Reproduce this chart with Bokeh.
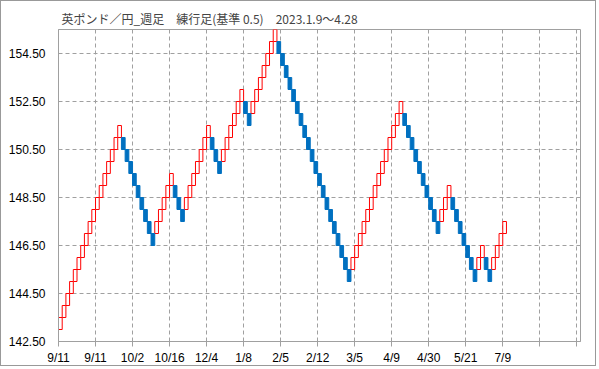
from bokeh.plotting import figure
from bokeh.models import FixedTicker, PrintfTickFormatter, ColumnDataSource
from bokeh.embed import file_html
from bokeh.resources import INLINE

# Renko (練行足) boxes, box size 0.5 yen: bottom of each box, in order
box_low = [
    143.0, 143.5, 144.0, 144.5, 145.0, 145.5, 146.0, 146.5, 147.0, 147.5,
    148.0, 148.5, 149.0, 149.5, 150.0, 150.5, 151.0,
    150.5, 150.0, 149.5, 149.0, 148.5, 148.0, 147.5, 147.0, 146.5,
    147.0, 147.5, 148.0, 148.5, 149.0,
    148.5, 148.0, 147.5,
    148.0, 148.5, 149.0, 149.5, 150.0, 150.5, 151.0,
    150.5, 150.0, 149.5,
    150.0, 150.5, 151.0, 151.5, 152.0, 152.5,
    152.0, 151.5,
    152.0, 152.5, 153.0, 153.5, 154.0, 154.5, 155.0,
    154.5, 154.0, 153.5, 153.0, 152.5, 152.0, 151.5, 151.0, 150.5, 150.0,
    149.5, 149.0, 148.5, 148.0, 147.5, 147.0, 146.5, 146.0, 145.5, 145.0,
    145.5, 146.0, 146.5, 147.0, 147.5, 148.0, 148.5, 149.0, 149.5, 150.0,
    150.5, 151.0, 151.5, 152.0,
    151.5, 151.0, 150.5, 150.0, 149.5, 149.0, 148.5, 148.0, 147.5, 147.0,
    147.5, 148.0, 148.5,
    148.0, 147.5, 147.0, 146.5, 146.0, 145.5, 145.0,
    145.5, 146.0,
    145.5, 145.0,
    145.5, 146.0, 146.5, 147.0,
]
box_dir = (["U"] * 17 + ["D"] * 9 + ["U"] * 5 + ["D"] * 3 + ["U"] * 7 + ["D"] * 3
           + ["U"] * 6 + ["D"] * 2 + ["U"] * 7 + ["D"] * 20 + ["U"] * 14 + ["D"] * 10
           + ["U"] * 3 + ["D"] * 7 + ["U"] * 2 + ["D"] * 2 + ["U"] * 4)
box_size = 0.5

x_ticks = [0, 10, 20, 30, 40, 50, 60, 70, 80, 90, 100, 110, 120, 130, 140]
x_labels = ["9/11", "9/11", "10/2", "10/16", "12/4", "1/8", "2/5", "2/12",
            "3/5", "4/9", "4/30", "5/21", "7/9", "", ""]
y_ticks = [142.5, 144.5, 146.5, 148.5, 150.5, 152.5, 154.5]

title = "英ポンド／円_週足　練行足(基準 0.5)　2023.1.9〜4.28"

up_l, up_b = [], []
dn_l, dn_b = [], []
for i, (lo, d) in enumerate(zip(box_low, box_dir)):
    if d == "U":
        up_l.append(i); up_b.append(lo)
    else:
        dn_l.append(i); dn_b.append(lo)

up = ColumnDataSource(dict(left=up_l, right=[v + 1 for v in up_l],
                           bottom=up_b, top=[v + box_size for v in up_b]))
dn = ColumnDataSource(dict(left=dn_l, right=[v + 1 for v in dn_l],
                           bottom=dn_b, top=[v + box_size for v in dn_b]))

GRAY = "#a0a0a0"
p = figure(width=596, height=366, x_range=(0, 141), y_range=(142.5, 155.5),
           output_backend="svg", toolbar_location=None,
           min_border_left=57, min_border_right=17, min_border_top=28,
           min_border_bottom=25, title=title)
p.title.text_font = "Noto Sans CJK JP"
p.title.text_font_size = "12px"
p.title.text_font_style = "normal"
p.title.align = "left"
p.title.standoff = 6
p.title.offset = 3
p.outline_line_color = GRAY
p.outline_line_width = 1
p.background_fill_color = "white"
p.border_fill_color = "white"

p.quad(left="left", right="right", bottom="bottom", top="top", source=up,
       fill_color="white", line_color="#ff0000", line_width=1)
p.quad(left="left", right="right", bottom="bottom", top="top", source=dn,
       fill_color="#0070c0", line_color="#0070c0", line_width=1)

p.xaxis.ticker = FixedTicker(ticks=x_ticks)
p.xaxis.major_label_overrides = {t: l for t, l in zip(x_ticks, x_labels)}
p.yaxis.ticker = FixedTicker(ticks=y_ticks)
p.yaxis.formatter = PrintfTickFormatter(format="%.2f")

for ax in (p.xaxis[0], p.yaxis[0]):
    ax.axis_line_color = GRAY
    ax.major_tick_line_color = GRAY
    ax.minor_tick_line_color = None
    ax.major_label_text_font = "Liberation Sans"
    ax.major_label_text_font_size = "12px"
    ax.major_label_text_color = "black"
    ax.major_tick_in = 0
p.xaxis.major_tick_out = 5
p.xaxis.major_label_standoff = 4
p.yaxis.major_tick_out = 0
p.yaxis.major_label_standoff = 13

p.xgrid.grid_line_color = GRAY
p.xgrid.grid_line_dash = "4 3"
p.ygrid.grid_line_color = GRAY
p.ygrid.grid_line_dash = "4 3"

p.styles = {"border": "1px solid #999999"}

open("out.html", "w").write(file_html(p, INLINE))
